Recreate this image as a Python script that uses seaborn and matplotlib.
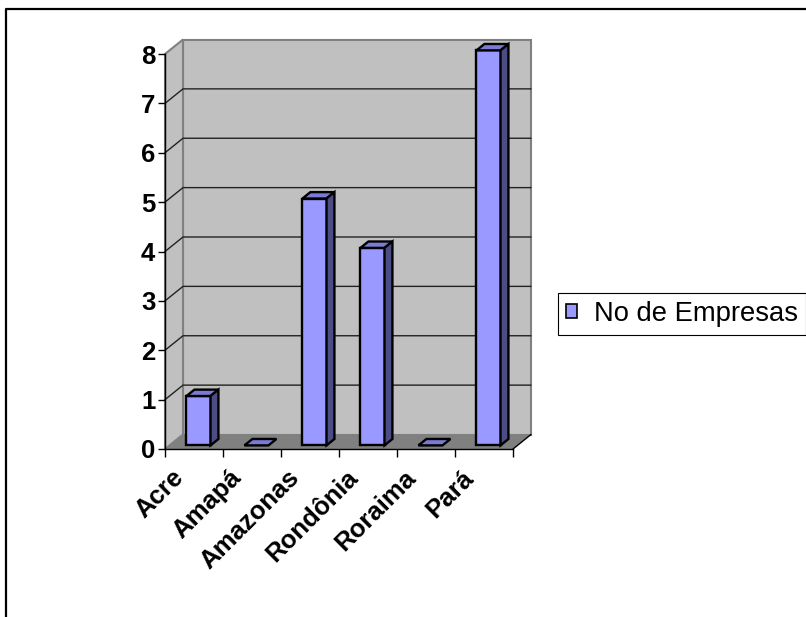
import matplotlib
matplotlib.use("Agg")
import matplotlib.pyplot as plt
from matplotlib.patches import Polygon, Patch
from matplotlib.lines import Line2D
from matplotlib.transforms import ScaledTranslation
import seaborn as sns
import pandas as pd

# Number of companies per state
estados = ["Acre", "Amapá", "Amazonas", "Rondônia", "Roraima", "Pará"]
empresas = [1, 0, 5, 4, 0, 8]
serie = "No de Empresas"
y_ticks = [0, 1, 2, 3, 4, 5, 6, 7, 8]

df = pd.DataFrame({"Estado": estados, "Empresas": empresas})

sns.set_style("white")
plt.rcParams["font.family"] = ["Liberation Sans", "DejaVu Sans"]
plt.rcParams["text.color"] = "black"
plt.rcParams["xtick.color"] = "black"
plt.rcParams["ytick.color"] = "black"

W, H, DPI = 806, 617, 100
fig = plt.figure(figsize=(W / DPI, H / DPI), dpi=DPI)
fig.patch.set_facecolor("white")

# front plane of the 3-D box in pixel coordinates
x0_px, x1_px, y0_px, y1_px = 165, 513, 449, 54
ax = fig.add_axes([x0_px / W, (H - y0_px) / H,
                   (x1_px - x0_px) / W, (y0_px - y1_px) / H])
ax.set_facecolor("none")

n = len(estados)
ymax = y_ticks[-1]
ax.set_xlim(-0.5, n - 0.5)
ax.set_ylim(0, ymax)

# depth of the box (data units): 18 px right, 14.5 px up
DX = 18 / ((x1_px - x0_px) / n)
DY = 14.5 / ((y0_px - y1_px) / ymax)

wall_c = "#c0c0c0"
floor_c = "#808080"
edge_c = "#808080"
xl, xr = -0.5, n - 0.5

# walls and floor
ax.add_patch(Polygon([(xl + DX, DY), (xr + DX, DY), (xr + DX, ymax + DY), (xl + DX, ymax + DY)],
                     closed=True, facecolor=wall_c, edgecolor=edge_c, lw=1.5, zorder=0, clip_on=False))
ax.add_patch(Polygon([(xl, 0), (xl + DX, DY), (xl + DX, ymax + DY), (xl, ymax)],
                     closed=True, facecolor=wall_c, edgecolor=edge_c, lw=1.5, zorder=0, clip_on=False))
ax.add_patch(Polygon([(xl, 0), (xr, 0), (xr + DX, DY), (xl + DX, DY)],
                     closed=True, facecolor=floor_c, edgecolor="none", lw=0, zorder=0.2, clip_on=False))
ax.plot([xr, xr + DX], [0, DY], color="black", lw=1.0, zorder=0.3, clip_on=False)

# gridlines on back and side wall
for k in y_ticks[1:-1]:
    ax.plot([xl, xl + DX, xr + DX], [k, k + DY, k + DY], color="#222222", lw=1.0,
            zorder=0.5, clip_on=False)

# front faces of the bars
front_c = "#9999ff"
top_c = "#7b7bd6"
side_c = "#4d4d85"
bw = 0.414
sns.barplot(data=df, x="Estado", y="Empresas", color=front_c, width=bw,
            edgecolor="black", linewidth=1.7, saturation=1, ax=ax, zorder=3)
ax.set_xlim(-0.5, n - 0.5)
ax.set_ylim(0, ymax)

d0, db = 0.25, 0.44
for p in list(ax.patches):
    if isinstance(p, Polygon):
        continue
    x, w, h = p.get_x(), p.get_width(), p.get_height()
    xs, ys = x + d0 * DX, d0 * DY
    p.set_x(xs)
    p.set_y(ys)
    p.set_clip_on(False)
    ax.add_patch(Polygon([(xs, ys + h), (xs + w, ys + h),
                          (xs + w + db * DX, ys + h + db * DY), (xs + db * DX, ys + h + db * DY)],
                         closed=True, facecolor=top_c, edgecolor="black", lw=1.7,
                         zorder=3, clip_on=False))
    if h > 0:
        ax.add_patch(Polygon([(xs + w, ys), (xs + w + db * DX, ys + db * DY),
                              (xs + w + db * DX, ys + h + db * DY), (xs + w, ys + h)],
                             closed=True, facecolor=side_c, edgecolor="black", lw=1.7,
                             zorder=3, clip_on=False))

# axes lines and ticks
for s in ["top", "right"]:
    ax.spines[s].set_visible(False)
for s in ["left", "bottom"]:
    ax.spines[s].set_color("black")
    ax.spines[s].set_linewidth(1.0)
    ax.spines[s].set_zorder(1)

ax.set_yticks(y_ticks)
ax.set_yticklabels([str(v) for v in y_ticks], fontsize=18.5, fontweight="bold", color="black")
ax.tick_params(axis="y", length=5, width=1, color="black", pad=2, left=True)

ax.set_xticks(range(n))
ax.set_xticklabels(estados, fontsize=18.5, fontweight="bold", rotation=45, color="black",
                   ha="right", va="center", rotation_mode="anchor")
ax.set_xticks([i - 0.5 for i in range(n + 1)], minor=True)
ax.tick_params(axis="x", which="major", length=0, pad=18)
ax.tick_params(axis="x", which="minor", length=6, width=1, color="black", bottom=True)
shift = ScaledTranslation(-14 / DPI, 0, fig.dpi_scale_trans)
for lbl in ax.get_xticklabels():
    lbl.set_transform(lbl.get_transform() + shift)
ax.set_xlabel("")
ax.set_ylabel("")

# legend
handles = [Patch(facecolor=front_c, edgecolor="black", lw=1.2, label=serie)]
leg = fig.legend(handles=handles, loc="center left",
                 bbox_to_anchor=(558 / W, (H - 314) / H),
                 fontsize=19.7, frameon=True, fancybox=False, framealpha=1,
                 edgecolor="black", handlelength=0.4, handleheight=0.4,
                 handletextpad=0.6, borderpad=0.3, borderaxespad=0, labelcolor="black")
leg.get_frame().set_linewidth(0.8)

# outer chart frame (top and left edges)
fig.add_artist(Line2D([6 / W, 6 / W, 1.0], [0.0, (H - 9) / H, (H - 9) / H],
                      transform=fig.transFigure, color="black", lw=1.6))

fig.savefig("out.png", dpi=DPI)
